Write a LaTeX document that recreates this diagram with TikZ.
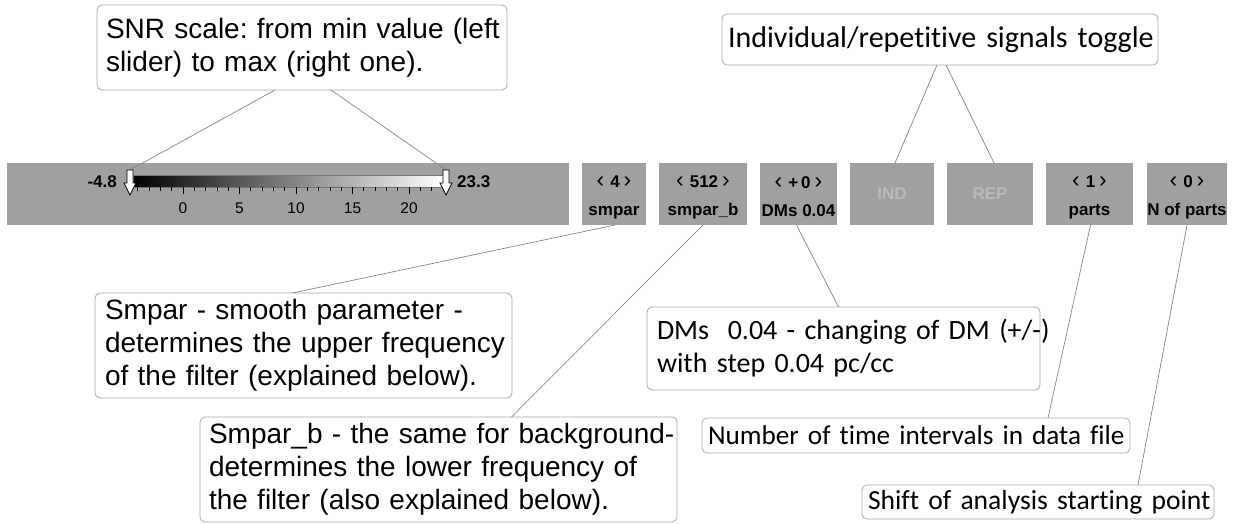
\documentclass[tikz,border=0pt]{standalone}
\usepackage{fontspec}
\setmainfont{Liberation Sans}
\newfontfamily\calibri[Ligatures=NoCommon]{Carlito}
\definecolor{panelgray}{HTML}{A0A0A0}
\definecolor{dimtext}{HTML}{B9B9B9}
\definecolor{leader}{HTML}{858585}
\definecolor{frame}{HTML}{A8A8A8}
% spin-button value: left chevron, value, right chevron
\newcommand{\spinval}[1]{\rule{0pt}{18pt}\scalebox{1.35}{\mdseries‹}\hspace{6pt}#1\hspace{4pt}\scalebox{1.35}{\mdseries›}}
\frenchspacing

\begin{document}
\begin{tikzpicture}[x=1pt,y=-1pt,
  panel/.style={fill=panelgray, draw=none, inner sep=0pt, outer sep=0pt, anchor=north west},
  ctrl/.style={panel, minimum height=62pt, align=center,
    font=\fontsize{17}{28}\selectfont\bfseries},
  callout/.style={draw=frame, line width=0.8pt, rounded corners=5pt, fill=white,
    anchor=north west, outer sep=0pt, inner ysep=0pt, align=left},
  arialtxt/.style={font=\fontsize{28}{33}\selectfont},
  calibtxt/.style={font=\calibri\fontsize{28}{33}\selectfont},
  leadline/.style={draw=leader, line width=0.7pt},
  slider/.style={draw=black, fill=white, line width=0.8pt, line join=miter},
  ticklabel/.style={font=\fontsize{15.5}{15.5}\selectfont, inner sep=0pt},
  scaleval/.style={font=\fontsize{17}{17}\selectfont\bfseries, inner sep=0pt},
]
\useasboundingbox (0,0) rectangle (1238,524);

% ---- SNR panel with colour bar ----
\node[panel, minimum width=562pt, minimum height=62pt] (snrpanel) at (7,163) {};
\shade[left color=black, right color=white] (133,175) rectangle (443,187);
\draw[black!55, line width=0.5pt] (133,175) rectangle (443,187);
\foreach \v in {-4,...,23} \draw[black, line width=0.8pt] (183+11.3*\v,187) -- ++(0,4);
\foreach \v in {0,5,...,20} \draw[black, line width=0.8pt] (183+11.3*\v,187) -- ++(0,7);
\foreach \v in {0,5,10,15,20} \node[ticklabel] (tick\v) at (183+11.3*\v,208) {\v};
\node[scaleval, anchor=east] (minval) at (117,182) {-4.8};
\node[scaleval, anchor=west] (maxval) at (457,182) {23.3};
\coordinate (sliderL) at (130,170);
\coordinate (sliderR) at (446,170);

% ---- control buttons ----
\node[ctrl, minimum width=64pt] (smpar)  at (582,163)  {\spinval{4}\\smpar};
\node[ctrl, minimum width=88pt] (smparb) at (659,163)  {\spinval{512}\\smpar\_b};
\node[ctrl, minimum width=77pt] (dms)    at (760,163)  {\spinval{+\hspace{3pt}0}\\DMs 0.04};
\node[ctrl, minimum width=84pt, text=dimtext] (ind) at (850,163) {IND};
\node[ctrl, minimum width=86pt, text=dimtext] (rep) at (947,163) {REP};
\node[ctrl, minimum width=87pt] (parts)  at (1046,163) {\spinval{1}\\parts};
\node[ctrl, minimum width=80pt] (nparts) at (1147,163) {\spinval{0}\\N of parts};

% ---- explanatory callouts ----
\node[callout, arialtxt, minimum width=410pt, minimum height=85pt, inner xsep=9pt, text width=392pt]
  (snr) at (97,5)
  {\mbox{SNR scale: from min value (left}\\\mbox{slider) to max (right one).}};
\node[callout, font=\calibri\fontsize{30}{33}\selectfont,
  minimum width=436pt, minimum height=51pt, inner xsep=6pt, text width=424pt]
  (indiv) at (722,14) {\mbox{Individual/repetitive signals toggle}};
\node[callout, arialtxt, minimum width=417pt, minimum height=105pt, inner xsep=10pt, text width=397pt]
  (smparnote) at (95,293)
  {\mbox{Smpar - smooth parameter -}\\\mbox{determines the upper frequency}\\\mbox{of the filter (explained below).}};
\node[callout, arialtxt, minimum width=477pt, minimum height=105pt, inner xsep=9pt, text width=459pt]
  (smparbnote) at (200,417)
  {\mbox{Smpar\_b - the same for background-}\\\mbox{determines the lower frequency of}\\\mbox{the filter (also explained below).}};
\node[callout, calibtxt, minimum width=393pt, minimum height=83pt, inner xsep=10pt, text width=373pt]
  (dmsnote) at (647,307)
  {\mbox{DMs\ \ 0.04 - changing of DM (+/-)}\\\mbox{with step 0.04 pc/cc}};
\node[callout, font=\calibri\fontsize{27.2}{33}\selectfont,
  minimum width=428pt, minimum height=35pt, inner xsep=6pt, text width=416pt]
  (number) at (702,418) {\mbox{Number of time intervals in data file}};
\node[callout, font=\calibri\fontsize{27.6}{33}\selectfont,
  minimum width=352pt, minimum height=34pt, inner xsep=6pt, text width=340pt]
  (shift) at (862,485) {\mbox{Shift of analysis starting point}};

% ---- leader lines ----
\draw[leadline] ([xshift=-27pt]snr.south) -- (sliderL);
\draw[leadline] ([xshift=29pt]snr.south) -- (sliderR);
\draw[leadline] ([xshift=-3pt]indiv.south) -- ([xshift=3pt]ind.north);
\draw[leadline] ([xshift=6pt]indiv.south) -- ([xshift=4pt]rep.north);
\draw[leadline] ([xshift=1pt]smpar.south) -- ([xshift=-11pt]smparnote.north);
\draw[leadline] (smparb.south) -- ([xshift=73pt]smparbnote.north);
\draw[leadline] ([xshift=-2pt]dms.south) -- ([xshift=-5pt]dmsnote.north);
\draw[leadline] ([xshift=1pt]parts.south) -- ([xshift=132pt]number.north);
\draw[leadline] (nparts.south) -- ([xshift=100pt]shift.north);

% ---- slider markers on the colour bar ----
\foreach \c in {sliderL,sliderR}
  \draw[slider] ([xshift=-3pt]\c) -- ([xshift=3pt]\c) -- ++(0,13) -- ++(3,0)
    -- ([yshift=-25pt]\c) -- ++(-6,-12) -- ++(3,0) -- cycle;
\end{tikzpicture}
\end{document}
